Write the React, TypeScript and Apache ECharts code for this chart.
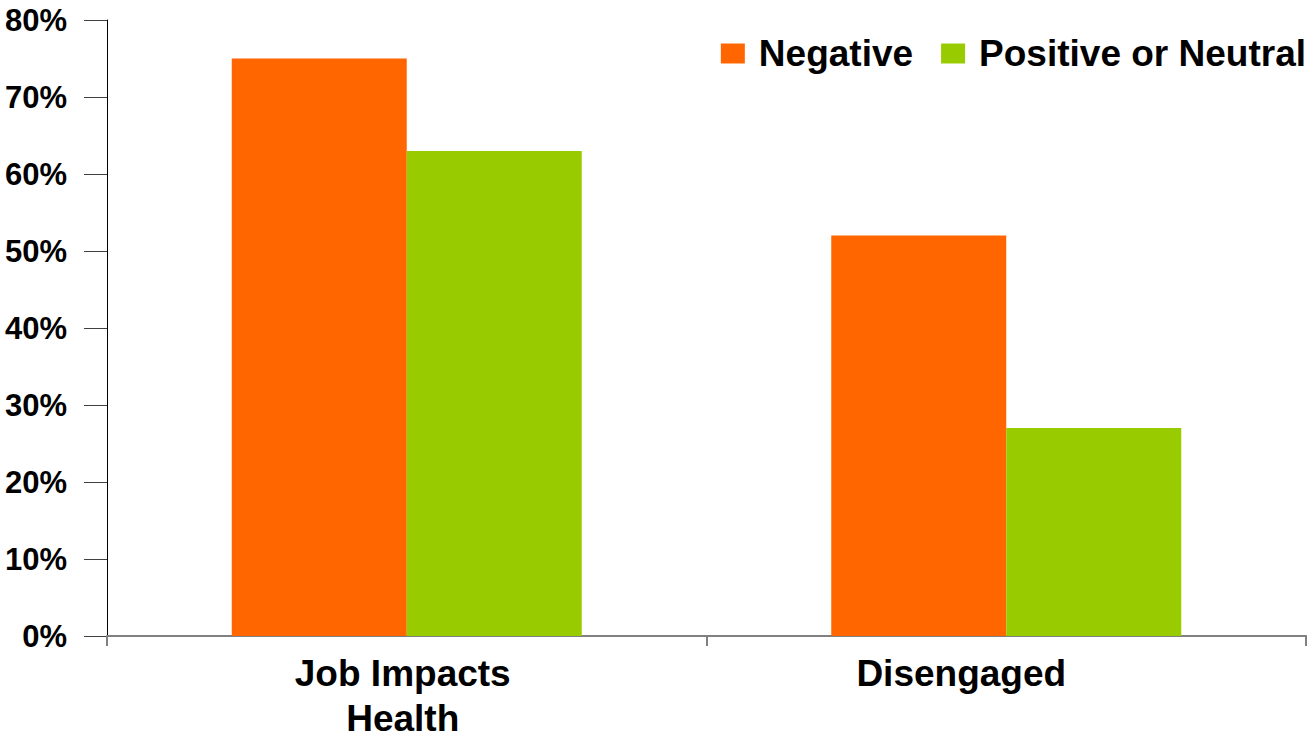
import React, { useEffect, useRef } from "react";
import * as echarts from "echarts";

const categories = ["Job Impacts\nHealth", "Disengaged"];
const negativeValues = [75, 52];
const positiveValues = [63, 27];
const seriesNames = ["Negative", "Positive or Neutral"];
const labelShift = [8, 90];

export default function App() {
  const ref = useRef<HTMLDivElement>(null);
  useEffect(() => {
    if (!ref.current) return;
    const chart = echarts.init(ref.current, undefined, { renderer: "svg" });
    const font = "Liberation Sans, Arial, sans-serif";
    const catStyle = (shift: number) => ({
      fontFamily: font,
      fontSize: 37,
      fontWeight: "bold",
      color: "#000",
      lineHeight: 45,
      padding: [0, shift, 0, 0],
    });
    chart.setOption({
      animation: false,
      backgroundColor: "#ffffff",
      grid: { left: 107, right: 1, top: 20, bottom: 105, containLabel: false },
      legend: {
        data: seriesNames,
        right: 1,
        top: 35,
        padding: 0,
        itemGap: 28,
        itemWidth: 24,
        itemHeight: 20,
        icon: "rect",
        textStyle: {
          fontFamily: font,
          fontSize: 37,
          fontWeight: "bold",
          color: "#000",
          padding: [0, 0, 0, 9],
        },
      },
      xAxis: {
        type: "category",
        data: categories,
        axisLine: { show: true, lineStyle: { color: "#808080", width: 2 } },
        axisTick: { show: true, length: 10, lineStyle: { color: "#808080", width: 2 } },
        axisLabel: {
          margin: 15,
          interval: 0,
          formatter: (v: string) => {
            const i = categories.indexOf(v);
            return v
              .split("\n")
              .map((line) => `{c${i}|${line}}`)
              .join("\n");
          },
          rich: {
            c0: catStyle(labelShift[0]),
            c1: catStyle(labelShift[1]),
          },
        },
      },
      yAxis: {
        type: "value",
        min: 0,
        max: 80,
        interval: 10,
        axisLine: { show: true, lineStyle: { color: "#000", width: 1 } },
        axisTick: { show: true, length: 23, lineStyle: { color: "#404040", width: 1 } },
        splitLine: { show: false },
        axisLabel: {
          margin: 40,
          formatter: "{value}%",
          fontFamily: font,
          fontSize: 31,
          fontWeight: "bold",
          color: "#000",
        },
      },
      series: [
        {
          name: seriesNames[0],
          type: "bar",
          data: negativeValues,
          barWidth: 175,
          barGap: "0%",
          itemStyle: { color: "#FF6600" },
        },
        {
          name: seriesNames[1],
          type: "bar",
          data: positiveValues,
          barWidth: 175,
          barGap: "0%",
          itemStyle: { color: "#99CC00" },
        },
      ],
    });
    return () => chart.dispose();
  }, []);
  return (
    <div
      ref={ref}
      style={{ position: "fixed", left: 0, top: 0, width: 1307, height: 741 }}
    />
  );
}
